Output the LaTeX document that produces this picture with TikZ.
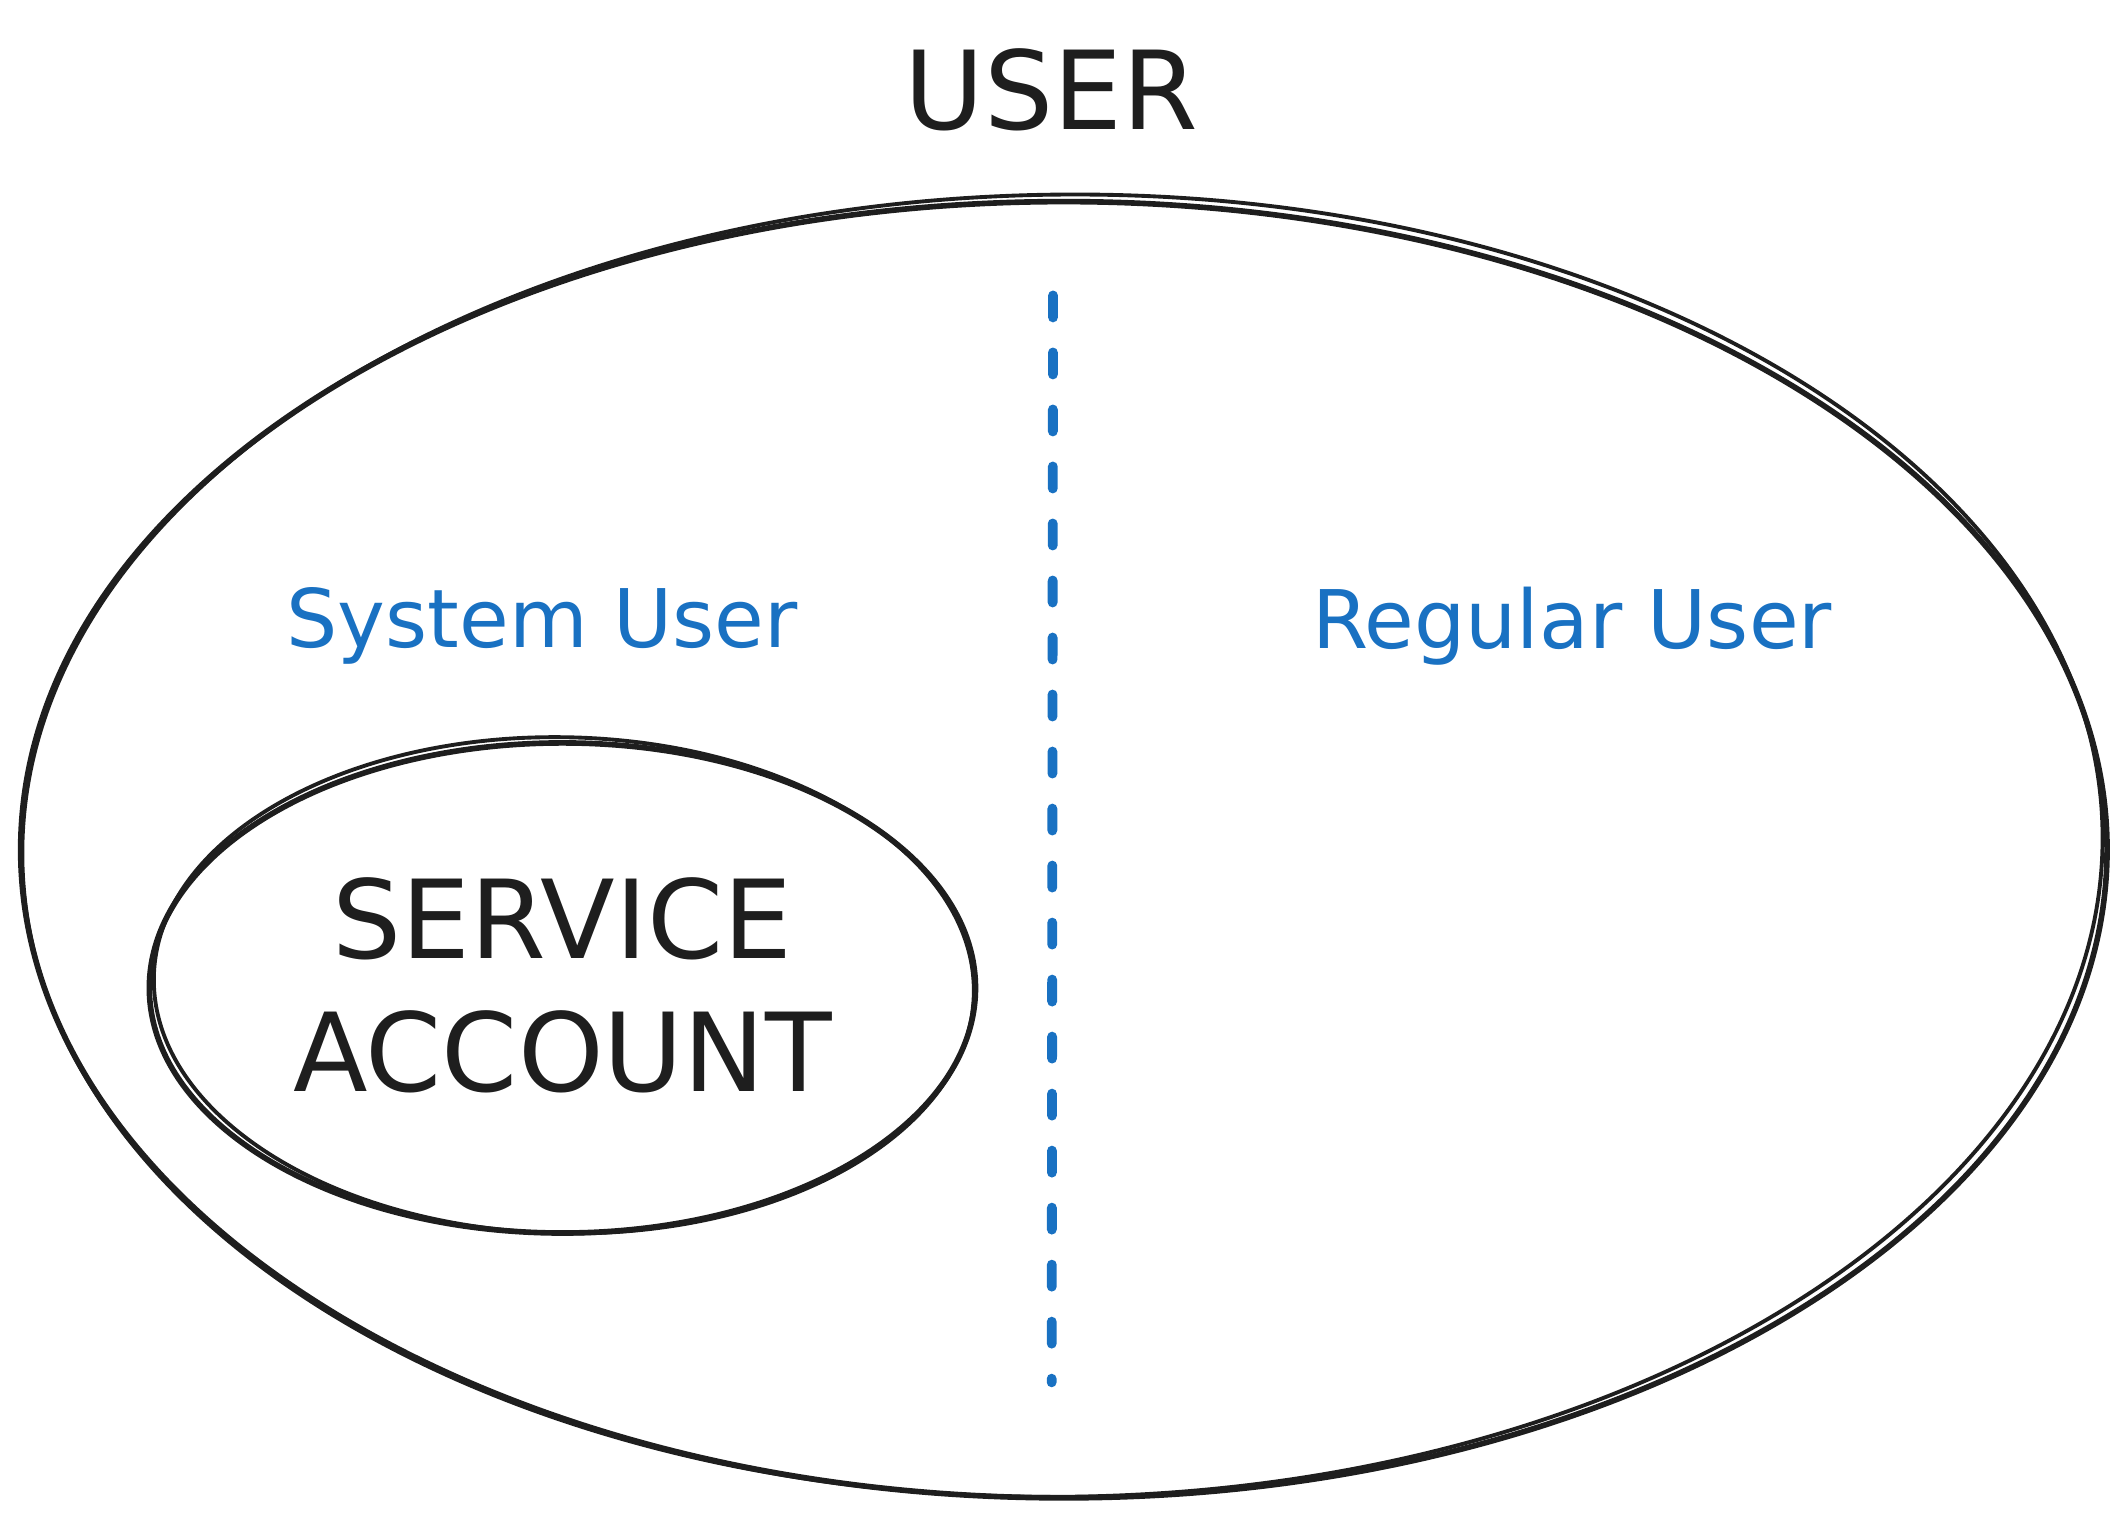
\documentclass[tikz,border=0pt]{standalone}
\usepackage{fontspec}
\setmainfont{DejaVu Sans}
\usepackage{tikz}
\usepackage{xcolor}
\definecolor{skblue}{HTML}{1971C2}
\definecolor{skink}{HTML}{1E1E1E}

\begin{document}
\begin{tikzpicture}[line cap=round,line join=round,x=0.01355cm,y=-0.01355cm]
\useasboundingbox (0,0) rectangle (1568,1123);

\node [color=skink,font=\fontsize{31}{36}\selectfont] (user) at (776,66) {USER};

% outer set, drawn twice for the sketchy look
\draw [color=skink,line width=1.6pt] (785,627) ellipse [x radius=10.43cm,y radius=6.48cm];
\draw [color=skink,line width=1.1pt,rotate around={0.7:(785,627)}] (784,624) ellipse [x radius=10.40cm,y radius=6.51cm];

\draw [color=skblue,line width=2.8pt,dash pattern=on 0.22cm off 0.35cm] (777,218) -- (776,1020);

\node [color=skblue,font=\fontsize{23}{27}\selectfont] (sysuser) at (400,462) {System User};
\node [color=skblue,font=\fontsize{23}{27}\selectfont] (reguser) at (1160,462) {Regular User};

% inner set
\draw [color=skink,line width=1.6pt] (415,729) ellipse [x radius=4.13cm,y radius=2.45cm];
\draw [color=skink,line width=1.1pt,rotate around={-1.2:(415,729)}] (416,727) ellipse [x radius=4.10cm,y radius=2.48cm];

\node [color=skink,align=center,font=\fontsize{31}{38}\selectfont] (svcacct) at (415,727) {SERVICE\\ACCOUNT};
\end{tikzpicture}
\end{document}
